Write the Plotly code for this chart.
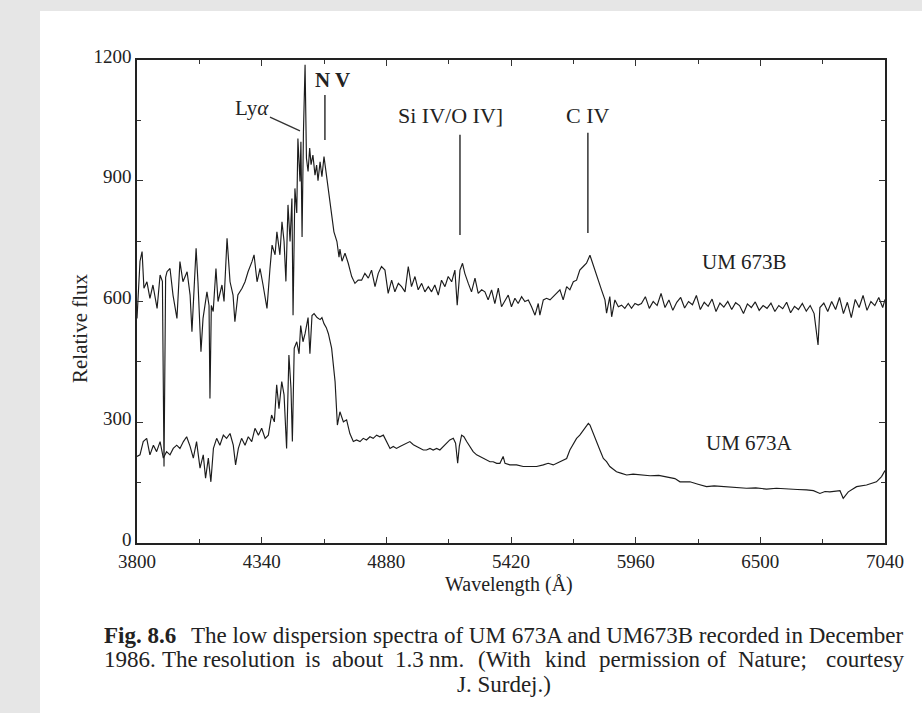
import plotly.graph_objects as go

# ---------------- data ----------------
wl_B = [3800, 3813, 3822, 3830, 3843, 3856, 3869, 3887, 3900, 3910, 3917, 3924, 3930, 3943, 3956, 3973,
        3986, 3999, 4017, 4030, 4038, 4056, 4064, 4077, 4086, 4103, 4112, 4116, 4122, 4130, 4142, 4151,
        4168, 4177, 4190, 4203, 4216, 4224, 4237, 4255, 4268, 4281, 4298, 4307, 4320, 4333, 4346, 4363,
        4376, 4385, 4398, 4406, 4419, 4428, 4437, 4445, 4454, 4463, 4471, 4476, 4484, 4492, 4497, 4506,
        4510, 4515, 4521, 4528, 4534, 4541, 4548, 4554, 4562, 4571, 4578, 4584, 4593, 4601, 4610, 4618,
        4627, 4636, 4645, 4653, 4666, 4675, 4679, 4688, 4701, 4715, 4730, 4744, 4758, 4773, 4787, 4802,
        4816, 4831, 4845, 4859, 4874, 4888, 4903, 4917, 4932, 4946, 4961, 4975, 4989, 5004, 5018, 5033,
        5047, 5062, 5076, 5090, 5105, 5119, 5134, 5148, 5163, 5177, 5187, 5199, 5210, 5220, 5235, 5249,
        5264, 5278, 5293, 5307, 5321, 5336, 5350, 5365, 5379, 5394, 5408, 5422, 5437, 5451, 5466, 5480,
        5495, 5509, 5524, 5538, 5545, 5560, 5574, 5589, 5603, 5617, 5632, 5646, 5661, 5675, 5690, 5704,
        5718, 5733, 5747, 5762, 5773, 5783, 5798, 5812, 5827, 5834, 5848, 5856, 5870, 5885, 5899, 5913,
        5928, 5942, 5957, 5971, 5985, 6002, 6019, 6036, 6053, 6070, 6087, 6104, 6121, 6138, 6155, 6172,
        6189, 6206, 6223, 6240, 6257, 6274, 6291, 6308, 6325, 6342, 6359, 6376, 6393, 6410, 6427, 6444,
        6461, 6478, 6495, 6512, 6529, 6546, 6563, 6580, 6597, 6614, 6631, 6648, 6665, 6682, 6699, 6716,
        6733, 6750, 6758, 6775, 6792, 6809, 6826, 6843, 6860, 6877, 6894, 6911, 6928, 6945, 6962, 6979,
        6996, 7013, 7030, 7040]
flux_B = [558, 700, 724, 633, 649, 608, 641, 583, 666, 650, 190, 660, 674, 682, 616, 558,
          699, 649, 674, 616, 525, 732, 649, 475, 558, 624, 590, 359, 590, 575, 682, 600,
          641, 600, 757, 649, 616, 550, 616, 633, 649, 674, 699, 716, 649, 682, 641, 583,
          682, 740, 716, 773, 716, 798, 749, 650, 840, 749, 856, 566, 881, 820, 1005, 898,
          997, 760, 1022, 1188, 956, 923, 981, 940, 964, 914, 939, 900, 947, 910, 960, 923,
          880, 840, 800, 773, 749, 710, 730, 700, 720, 695, 662, 645, 653, 653, 670, 658,
          678, 637, 670, 687, 678, 620, 653, 624, 645, 637, 624, 687, 637, 662, 629, 645,
          624, 637, 624, 641, 616, 653, 637, 662, 649, 678, 591, 678, 695, 670, 645, 624,
          658, 620, 629, 624, 604, 629, 595, 633, 587, 604, 616, 587, 608, 595, 612, 600,
          604, 587, 566, 595, 566, 604, 608, 604, 612, 620, 629, 604, 637, 629, 649, 653,
          678, 687, 695, 715, 695, 678, 653, 629, 604, 571, 612, 562, 604, 587, 591, 583,
          595, 583, 595, 591, 595, 612, 583, 600, 590, 620, 585, 604, 578, 598, 610, 584,
          600, 592, 615, 580, 598, 588, 606, 575, 596, 586, 600, 580, 597, 590, 570, 594,
          585, 599, 578, 590, 583, 596, 575, 590, 582, 598, 572, 588, 580, 595, 576, 590,
          570, 492, 585, 596, 575, 600, 580, 610, 570, 598, 560, 605, 585, 615, 578, 600,
          590, 610, 585, 605]

wl_A = [3800, 3813, 3827, 3842, 3856, 3871, 3885, 3900, 3914, 3928, 3943, 3957, 3972, 3986, 4001, 4015,
        4030, 4044, 4058, 4073, 4087, 4097, 4109, 4120, 4131, 4145, 4159, 4174, 4188, 4203, 4217, 4227,
        4239, 4253, 4268, 4282, 4297, 4311, 4326, 4340, 4355, 4369, 4383, 4395, 4405, 4415, 4427, 4437,
        4448, 4458, 4467, 4473, 4481, 4492, 4502, 4509, 4519, 4528, 4541, 4549, 4558, 4567, 4580, 4593,
        4601, 4610, 4620, 4629, 4643, 4658, 4668, 4679, 4694, 4708, 4722, 4737, 4751, 4766, 4780, 4794,
        4809, 4823, 4838, 4852, 4867, 4881, 4896, 4910, 4924, 4939, 4953, 4968, 4982, 4997, 5011, 5025,
        5040, 5054, 5069, 5083, 5098, 5112, 5127, 5141, 5155, 5170, 5180, 5189, 5196, 5206, 5216, 5228,
        5242, 5256, 5271, 5285, 5300, 5314, 5329, 5343, 5358, 5372, 5386, 5394, 5415, 5444, 5473, 5502,
        5531, 5560, 5581, 5603, 5632, 5661, 5675, 5690, 5704, 5718, 5733, 5747, 5755, 5762, 5776, 5791,
        5805, 5820, 5834, 5848, 5863, 5877, 5899, 5921, 5949, 5978, 6022, 6060, 6094, 6130, 6152, 6195,
        6230, 6267, 6300, 6354, 6400, 6440, 6480, 6527, 6570, 6614, 6660, 6700, 6730, 6758, 6780, 6801,
        6845, 6859, 6881, 6917, 6960, 7003, 7025, 7040]
flux_A = [215, 219, 252, 260, 219, 243, 227, 252, 211, 227, 219, 235, 243, 235, 252, 264,
          240, 211, 252, 186, 219, 161, 211, 152, 235, 260, 243, 268, 260, 272, 243, 194,
          235, 260, 243, 264, 252, 285, 268, 285, 260, 268, 318, 301, 393, 334, 401, 368,
          235, 467, 384, 252, 484, 500, 470, 540, 500, 520, 560, 470, 565, 570, 560, 555,
          560, 545, 535, 520, 484, 401, 293, 326, 301, 306, 272, 252, 256, 252, 260, 256,
          264, 260, 268, 264, 268, 252, 235, 240, 235, 240, 244, 248, 252, 244, 240, 235,
          231, 231, 235, 231, 235, 231, 240, 248, 256, 260, 248, 198, 240, 268, 264, 252,
          240, 227, 219, 215, 211, 206, 202, 202, 198, 198, 215, 198, 194, 194, 190, 190,
          190, 194, 198, 194, 202, 210, 231, 248, 260, 268, 281, 293, 297, 293, 272, 248,
          231, 210, 202, 190, 182, 177, 173, 169, 171, 169, 167, 168, 165, 160, 152, 152,
          146, 140, 142, 139, 138, 136, 137, 134, 136, 134, 133, 132, 130, 123, 128, 127,
          130, 111, 127, 140, 144, 152, 165, 180]

x_ticks = [3800, 4340, 4880, 5420, 5960, 6500, 7040]
y_ticks = [0, 300, 600, 900, 1200]

# emission-line markers (observed wavelength of each feature)
line_names = ["N V", "Si IV/O IV]", "C IV"]
line_wl = [4614, 5199, 5753]
spectrum_names = ["UM 673B", "UM 673A"]

# ---------------- figure ----------------
W, H = 922, 713
L, R, T, B = 137, 885, 60, 543          # plot-area pixel box
FONT = "Liberation Serif"
INK = "#1c1c1c"


def px(x):
    return (x - L) / (R - L)


def py(y):
    return (B - y) / (B - T)


fig = go.Figure()
fig.add_trace(go.Scatter(x=wl_B, y=flux_B, mode="lines", name=spectrum_names[0],
                         line=dict(color=INK, width=1.15), showlegend=False))
fig.add_trace(go.Scatter(x=wl_A, y=flux_A, mode="lines", name=spectrum_names[1],
                         line=dict(color=INK, width=1.15), showlegend=False))

axis_common = dict(showline=True, linecolor="#222", linewidth=1.5, mirror="allticks",
                   ticks="inside", ticklen=6, tickwidth=1.2, tickcolor="#333",
                   showgrid=False, zeroline=False)
fig.update_xaxes(range=[3800, 7040], tickvals=x_ticks, ticktext=[str(v) for v in x_ticks],
                 minor=dict(ticks="inside", ticklen=4, tickcolor="#333", dtick=270, tick0=3800),
                 tickfont=dict(family=FONT, size=19, color="#222"), ticklabelstandoff=0,
                 **axis_common)
fig.update_yaxes(range=[0, 1200], tickvals=y_ticks, ticktext=[str(v) for v in y_ticks],
                 minor=dict(ticks="inside", ticklen=4, tickcolor="#333", dtick=150, tick0=0),
                 tickfont=dict(family=FONT, size=19, color="#222"), ticklabelshift=-4,
                 **axis_common)

shapes = [
    # white page area on gray surround
    dict(type="rect", xref="paper", yref="paper", x0=px(40), x1=px(930), y0=py(720), y1=py(11),
         fillcolor="white", line=dict(width=0), layer="below"),
    # Ly-alpha leader
    dict(type="line", xref="x", yref="y", x0=4376, y0=1058, x1=4506, y1=1024,
         line=dict(color="#333", width=1.3)),
]
marker_spans = [(1113, 1001), (1014, 765), (1019, 770)]
for wl, (y0, y1) in zip(line_wl, marker_spans):
    shapes.append(dict(type="line", xref="x", yref="y", x0=wl, x1=wl, y0=y0, y1=y1,
                       line=dict(color="#333", width=1.5)))

ann = []


def A(text, x, y, size=22, xanchor="center", xref="x", yref="y", **kw):
    ann.append(dict(text=text, x=x, y=y, xref=xref, yref=yref, showarrow=False,
                    xanchor=xanchor, yanchor="middle",
                    font=dict(family=FONT, size=size, color="#222"), **kw))


A("Ly<i>α</i>", 4298, 1081, size=21)
A("<b>" + line_names[0] + "</b>", 4645, 1150, size=21)
A(line_names[1], 5156, 1061, size=22)
A(line_names[2], 5753, 1061, size=22)
A(spectrum_names[0], 6433, 698, size=21)
A(spectrum_names[1], 6455, 248, size=21)

# axis titles
A("Wavelength (Å)", px(509), py(584), size=20, xref="paper", yref="paper")
A("Relative flux", px(80), py(328), size=21, xref="paper", yref="paper", textangle=-90)

# caption
A("<b>Fig. 8.6</b>", px(102), py(635), size=23, xanchor="left", xref="paper", yref="paper")
A("The low dispersion spectra of UM 673A and UM673B recorded in December",
  px(906), py(635), size=23, xanchor="right", xref="paper", yref="paper")
words2 = [("1986.", 102), ("The", 160), ("resolution", 201), ("is", 303), ("about", 330),
          ("1.3", 393), ("nm.", 427), ("(With", 476), ("kind", 543), ("permission", 597),
          ("of", 705), ("Nature;", 736)]
for w, xl in words2:
    A(w, px(xl), py(659), size=23, xanchor="left", xref="paper", yref="paper")
A("courtesy", px(906), py(659), size=23, xanchor="right", xref="paper", yref="paper")
A("J. Surdej.)", px(504), py(684), size=23, xref="paper", yref="paper")

fig.update_layout(width=W, height=H, margin=dict(l=L, r=W - R, t=T, b=H - B),
                  paper_bgcolor="#e6e6e6", plot_bgcolor="rgba(0,0,0,0)",
                  shapes=shapes, annotations=ann, showlegend=False)
fig.write_html("out.html", config={"displayModeBar": False},
               post_script=["document.body.style.margin='0';document.body.style.padding='0';"])
